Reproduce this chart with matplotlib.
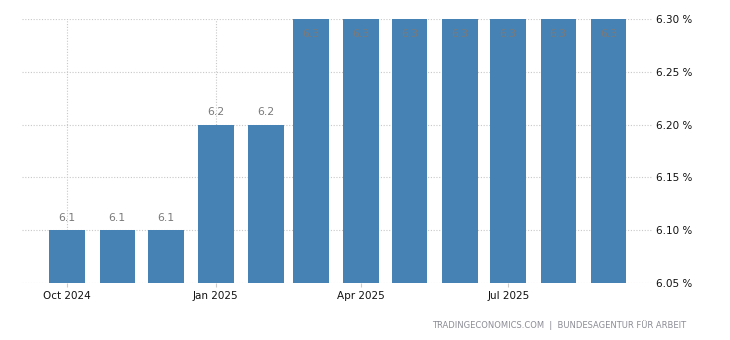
import matplotlib
matplotlib.use("Agg")
import matplotlib.pyplot as plt
import matplotlib.dates as mdates
from datetime import date

months = ["2024-10", "2024-11", "2024-12", "2025-01", "2025-02", "2025-03",
          "2025-04", "2025-05", "2025-06", "2025-07", "2025-08", "2025-09"]
rates = [6.1, 6.1, 6.1, 6.2, 6.2, 6.3, 6.3, 6.3, 6.3, 6.3, 6.3, 6.3]
tick_months = ["2024-10", "2025-01", "2025-04", "2025-07"]
tick_labels = ["Oct 2024", "Jan 2025", "Apr 2025", "Jul 2025"]
y_ticks = [6.05, 6.10, 6.15, 6.20, 6.25, 6.30]

def to_date(m):
    y, mo = m.split("-")
    return date(int(y), int(mo), 1)

x = mdates.date2num([to_date(m) for m in months])
xt = mdates.date2num([to_date(m) for m in tick_months])

fig = plt.figure(figsize=(7.3, 3.4), dpi=100)
ax = fig.add_axes([22 / 730, 1 - 283 / 340, (652 - 22) / 730, (283 - 19) / 340])

bar_color = "#4682b4"
ax.bar(x, [r - y_ticks[0] for r in rates], bottom=y_ticks[0], width=22,
       color=bar_color, zorder=2)

ax.set_ylim(y_ticks[0], y_ticks[-1])
ax.set_xlim(x[0] - 28, x[-1] + 27)

# value labels: above the bar, or tucked inside when the bar hits the top
for xi, r in zip(x, rates):
    if r >= y_ticks[-1] - 1e-9:
        ax.annotate(f"{r:.1f}", (xi, y_ticks[-1]), xytext=(0, -11),
                    textcoords="offset points", ha="center", va="center",
                    fontsize=7.8, color="#7a7a7a", zorder=3)
    else:
        ax.annotate(f"{r:.1f}", (xi, r), xytext=(0, 9),
                    textcoords="offset points", ha="center", va="center",
                    fontsize=7.8, color="#7a7a7a", zorder=3)

ax.set_xticks(xt)
ax.set_xticklabels(tick_labels, fontsize=7.5, color="#111111")
ax.set_yticks(y_ticks)
ax.set_yticklabels([f"{v:.2f} %" for v in y_ticks], fontsize=7.5, color="#111111")
ax.yaxis.tick_right()
ax.tick_params(axis="y", length=0, pad=3)
ax.tick_params(axis="x", length=3, color="#cccccc", pad=3)

ax.grid(True, axis="both", linestyle=(0, (1, 1.5)), color="#c8c8c8", linewidth=0.8, zorder=0)
for s in ax.spines.values():
    s.set_visible(False)

fig.text(686 / 730, 1 - 325 / 340,
         "TRADINGECONOMICS.COM  |  BUNDESAGENTUR FÜR ARBEIT",
         ha="right", va="center", fontsize=6, color="#8c8c96")

fig.savefig("out.png", dpi=100)
